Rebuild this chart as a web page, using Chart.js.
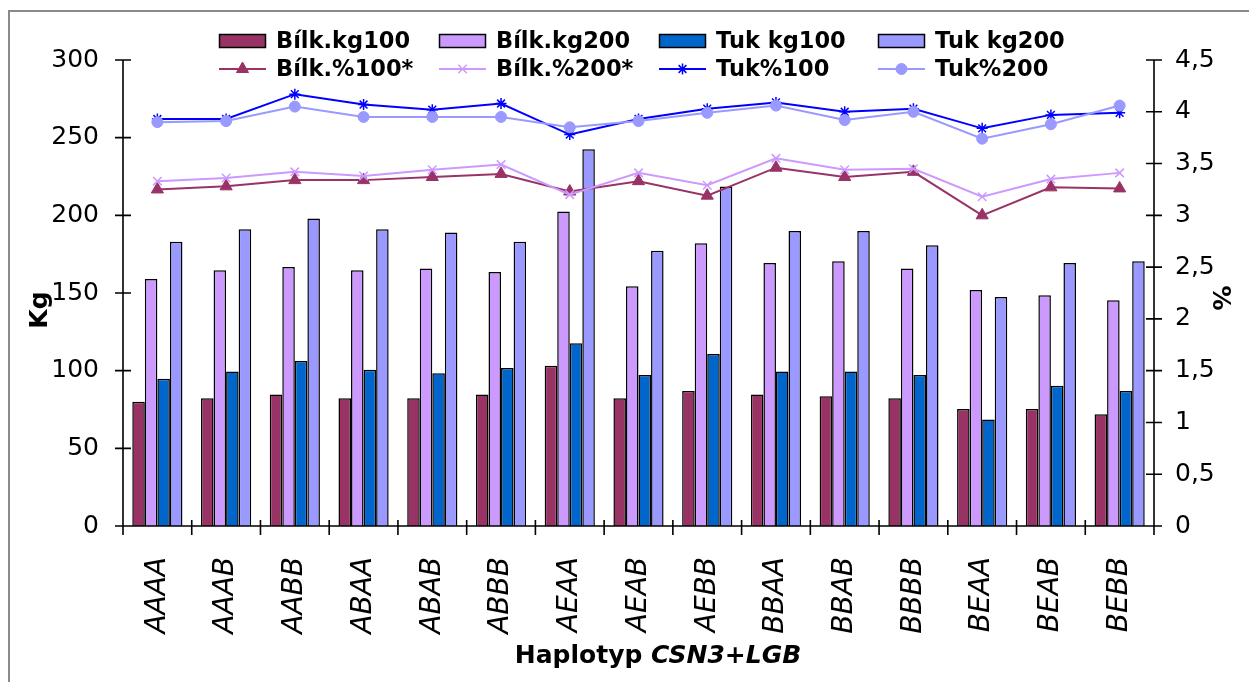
<!DOCTYPE html>
<html>
<head>
<meta charset="utf-8">
<script src="https://cdn.jsdelivr.net/npm/chart.js@4/dist/chart.umd.min.js"></script>
<style>
  html, body { margin: 0; padding: 0; background: #fff; }
  #wrap { width: 1249px; height: 682px; position: relative; }
</style>
</head>
<body>
<div id="wrap"><canvas id="chart"></canvas></div>
<script>
// Haplotype combinations CSN3 + LGB
const categories = ['AAAA', 'AAAB', 'AABB', 'ABAA', 'ABAB', 'ABBB', 'AEAA', 'AEAB',
                    'AEBB', 'BBAA', 'BBAB', 'BBBB', 'BEAA', 'BEAB', 'BEBB'];

// Protein and fat yield, kg (left axis)
const bilkKg100 = [80.0, 82.2, 84.7, 82.2, 82.2, 84.7, 103.2, 82.2, 86.9, 84.7, 83.5, 82.2, 75.3, 75.3, 71.9];
const bilkKg200 = [159.0, 164.6, 166.7, 164.6, 165.7, 163.5, 202.4, 154.3, 182.0, 169.3, 170.4, 165.7, 151.9, 148.5, 145.3];
const tukKg100  = [94.8, 99.4, 106.2, 100.6, 98.3, 101.7, 117.6, 97.2, 110.7, 99.4, 99.4, 97.2, 68.5, 90.3, 86.9];
const tukKg200  = [183.0, 191.0, 197.9, 191.0, 188.9, 183.0, 242.5, 177.2, 218.5, 189.9, 189.9, 180.7, 147.4, 169.3, 170.4];

// Protein and fat content, % (right axis)
const bilkPct100 = [3.25, 3.28, 3.34, 3.34, 3.37, 3.40, 3.23, 3.33, 3.19, 3.46, 3.37, 3.42, 3.00, 3.27, 3.26];
const bilkPct200 = [3.33, 3.36, 3.42, 3.38, 3.44, 3.49, 3.20, 3.41, 3.29, 3.55, 3.44, 3.45, 3.18, 3.35, 3.41];
const tukPct100  = [3.93, 3.93, 4.17, 4.07, 4.02, 4.08, 3.78, 3.93, 4.03, 4.09, 4.00, 4.03, 3.84, 3.97, 3.99];
const tukPct200  = [3.90, 3.91, 4.05, 3.95, 3.95, 3.95, 3.85, 3.91, 3.99, 4.06, 3.92, 4.00, 3.74, 3.88, 4.06];

// Axis ticks
const kgTicks  = [0, 50, 100, 150, 200, 250, 300];
const pctTicks = [0, 0.5, 1, 1.5, 2, 2.5, 3, 3.5, 4, 4.5];

// Axis titles
const yTitle = 'Kg';
const y2Title = '%';
const xTitlePlain = 'Haplotyp ';
const xTitleItalic = 'CSN3+LGB';

const FONT = '"DejaVu Sans", "Liberation Sans", sans-serif';
Chart.defaults.font.family = FONT;
Chart.defaults.color = '#000';

// White background and grey outer frame
const framePlugin = {
  id: 'frame',
  beforeDraw(chart) {
    const { ctx, width, height } = chart;
    ctx.save();
    ctx.fillStyle = '#fff';
    ctx.fillRect(0, 0, width, height);
    ctx.strokeStyle = '#8a8a8a';
    ctx.lineWidth = 2;
    ctx.strokeRect(9, 11, width + 40, height + 40);
    ctx.restore();
  }
};

// Axis lines with tick marks crossing them
const axisMarksPlugin = {
  id: 'axisMarks',
  afterDatasetsDraw(chart) {
    const { ctx, chartArea: a, scales: { x, y, y2 } } = chart;
    ctx.save();
    ctx.strokeStyle = '#000';
    ctx.lineWidth = 1.6;
    ctx.beginPath();
    ctx.moveTo(a.left, a.top); ctx.lineTo(a.left, a.bottom);
    ctx.moveTo(a.right, a.top); ctx.lineTo(a.right, a.bottom);
    ctx.moveTo(a.left, a.bottom); ctx.lineTo(a.right, a.bottom);
    y.ticks.forEach(t => {
      const py = y.getPixelForValue(t.value);
      ctx.moveTo(a.left - 8, py); ctx.lineTo(a.left + 8, py);
    });
    y2.ticks.forEach(t => {
      const py = y2.getPixelForValue(t.value);
      ctx.moveTo(a.right - 8, py); ctx.lineTo(a.right + 8, py);
    });
    for (let i = 0; i <= categories.length; i++) {
      const px = x.getPixelForValue(i - 0.5);
      ctx.moveTo(px, a.bottom - 6); ctx.lineTo(px, a.bottom + 9);
    }
    ctx.stroke();
    ctx.restore();
  }
};

// Axis titles (x title mixes upright and italic text)
const axisTitlesPlugin = {
  id: 'axisTitles',
  afterDraw(chart) {
    const { ctx } = chart;
    ctx.save();
    ctx.fillStyle = '#000';
    ctx.textAlign = 'center';
    ctx.textBaseline = 'middle';
    ctx.font = 'bold 25px ' + FONT;

    ctx.save();
    ctx.translate(40, 310);
    ctx.rotate(-Math.PI / 2);
    ctx.fillText(yTitle, 0, 0);
    ctx.restore();

    ctx.save();
    ctx.translate(1219, 298);
    ctx.rotate(Math.PI / 2);
    ctx.fillText(y2Title, 0, 0);
    ctx.restore();

    ctx.textAlign = 'left';
    ctx.textBaseline = 'alphabetic';
    ctx.font = 'bold 25px ' + FONT;
    const w1 = ctx.measureText(xTitlePlain).width;
    ctx.font = 'italic bold 25px ' + FONT;
    const w2 = ctx.measureText(xTitleItalic).width;
    const startX = 658 - (w1 + w2) / 2;
    ctx.font = 'bold 25px ' + FONT;
    ctx.fillText(xTitlePlain, startX, 663);
    ctx.font = 'italic bold 25px ' + FONT;
    ctx.fillText(xTitleItalic, startX + w1, 663);
    ctx.restore();
  }
};

// Legend laid out as a 4 x 2 grid
const legendGridPlugin = {
  id: 'legendGrid',
  afterDraw(chart) {
    const ctx = chart.ctx;
    const colX = [219, 439, 659, 878];
    const rowY = [41, 69];
    chart.data.datasets.forEach((ds, i) => {
      const x = colX[i % 4];
      const y = rowY[Math.floor(i / 4)];
      ctx.save();
      if (ds.type === 'line') {
        ctx.strokeStyle = ds.borderColor;
        ctx.lineWidth = 2;
        ctx.beginPath();
        ctx.moveTo(x, y); ctx.lineTo(x + 47, y);
        ctx.stroke();
        ctx.fillStyle = ds.pointBackgroundColor;
        ctx.strokeStyle = ds.pointBorderColor;
        ctx.lineWidth = ds.pointBorderWidth;
        Chart.helpers.drawPoint(ctx, {
          pointStyle: ds.pointStyle, radius: ds.pointRadius,
          rotation: 0, borderWidth: ds.pointBorderWidth
        }, x + 23.5, y);
      } else {
        ctx.fillStyle = ds.backgroundColor;
        ctx.fillRect(x, y - 7, 47, 14);
        ctx.strokeStyle = '#000';
        ctx.lineWidth = 1.5;
        ctx.strokeRect(x + 0.5, y - 6.5, 46, 13);
      }
      ctx.fillStyle = '#000';
      ctx.font = 'bold 22.5px ' + FONT;
      ctx.textAlign = 'left';
      ctx.textBaseline = 'middle';
      ctx.fillText(ds.label, x + 57, y + 1);
      ctx.restore();
    });
  }
};

const barStyle = (label, data, color) => ({
  type: 'bar', label, data,
  backgroundColor: color, borderColor: '#000', borderWidth: 1.5,
  yAxisID: 'y', order: 10,
  categoryPercentage: 0.73, barPercentage: 1.0
});

const lineStyle = (label, data, color, pointStyle, radius, pbw, order) => ({
  type: 'line', label, data,
  borderColor: color, backgroundColor: color, borderWidth: 2,
  pointStyle, pointRadius: radius, pointBackgroundColor: color,
  pointBorderColor: color, pointBorderWidth: pbw,
  fill: false, tension: 0, yAxisID: 'y2', order
});

new Chart(document.getElementById('chart'), {
  type: 'bar',
  data: {
    labels: categories,
    datasets: [
      barStyle('Bílk.kg100', bilkKg100, '#993366'),
      barStyle('Bílk.kg200', bilkKg200, '#CC99FF'),
      barStyle('Tuk kg100', tukKg100, '#0066CC'),
      barStyle('Tuk kg200', tukKg200, '#9999FF'),
      lineStyle('Bílk.%100*', bilkPct100, '#993366', 'triangle', 7, 1, 4),
      lineStyle('Bílk.%200*', bilkPct200, '#CC99FF', 'crossRot', 6, 1.5, 3),
      lineStyle('Tuk%100', tukPct100, '#0000FF', 'star', 5.5, 1.5, 2),
      lineStyle('Tuk%200', tukPct200, '#9999FF', 'circle', 5.5, 1, 1)
    ]
  },
  options: {
    responsive: true,
    maintainAspectRatio: false,
    animation: false,
    layout: { padding: { top: 60, left: 0, right: 0, bottom: 0 } },
    plugins: {
      legend: { display: false },
      tooltip: { enabled: false }
    },
    scales: {
      x: {
        type: 'category',
        offset: true,
        grid: { display: false, drawTicks: false },
        border: { display: false },
        ticks: {
          font: { size: 28, style: 'italic' },
          color: '#000',
          minRotation: 90, maxRotation: 90,
          autoSkip: false,
          padding: 31
        },
        afterFit(s) { s.height = 156; }
      },
      y: {
        position: 'left',
        min: 0, max: 300,
        grid: { display: false, drawTicks: false },
        border: { display: false },
        afterBuildTicks(s) { s.ticks = kgTicks.map(v => ({ value: v })); },
        ticks: { font: { size: 25 }, color: '#000', padding: 24 },
        afterFit(s) { s.width = 123; }
      },
      y2: {
        position: 'right',
        min: 0, max: 4.5,
        grid: { display: false, drawTicks: false },
        border: { display: false },
        afterBuildTicks(s) { s.ticks = pctTicks.map(v => ({ value: v })); },
        ticks: {
          font: { size: 25 }, color: '#000', padding: 21,
          callback: v => String(v).replace('.', ',')
        },
        afterFit(s) { s.width = 95; }
      }
    }
  },
  plugins: [framePlugin, axisMarksPlugin, axisTitlesPlugin, legendGridPlugin]
});
</script>
</body>
</html>
